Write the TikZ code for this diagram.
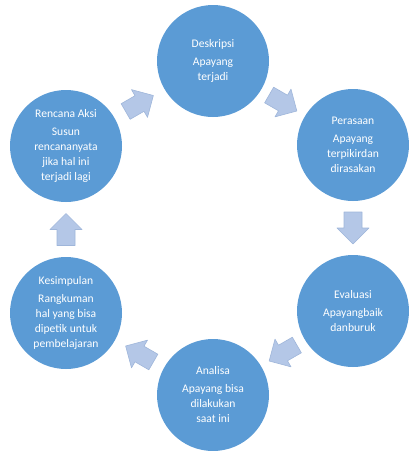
\documentclass[tikz,border=0pt]{standalone}
\usepackage{fontspec}
\setmainfont{Carlito}
\usetikzlibrary{calc}
\definecolor{circblue}{HTML}{5B9BD5}
\definecolor{arrfill}{HTML}{B4C7E7}
\definecolor{arredge}{HTML}{9FB6DA}
\begin{document}
\begin{tikzpicture}[x=1pt,y=-1pt,
  stage/.style={circle, fill=circblue, minimum size=112pt, inner sep=0pt, text=white, align=center, font=\fontsize{11.6}{15}\selectfont},
  barrow/.pic={\draw[arredge, fill=arrfill, line width=0.6pt, line join=round]
     (-16,-9) -- (0,-9) -- (0,-16) -- (16,0) -- (0,16) -- (0,9) -- (-16,9) -- cycle;}]
\useasboundingbox (0,0) rectangle (409,451);
\node[stage] (d) at (213,61) {Deskripsi\\[3pt]Apayang\\terjadi};
\node[stage] (p) at (353,145) {Perasaan\\[3pt]Apayang\\terpikirdan\\dirasakan};
\node[stage] (e) at (353,311) {Evaluasi\\[3pt]Apayangbaik\\danburuk};
\node[stage] (a) at (213,395) {Analisa\\[3pt]Apayang bisa\\dilakukan\\saat ini};
\node[stage] (k) at (66,313) {Kesimpulan\\[3pt]Rangkuman\\hal yang bisa\\dipetik untuk\\pembelajaran};
\node[stage] (r) at (66,146) {Rencana Aksi\\[3pt]Susun\\rencananyata\\jika hal ini\\terjadi lagi};
\path ($(d)!0.5!(p)$) pic[rotate=-30]{barrow};
\path ($(p)!0.5!(e)$) pic[rotate=-90]{barrow};
\path ($(e)!0.5!(a)$) pic[rotate=-150]{barrow};
\path ($(a)!0.5!(k)$) pic[rotate=150]{barrow};
\path ($(k)!0.5!(r)$) pic[rotate=90]{barrow};
\path ($(r)!0.5!(d)$) pic[rotate=30]{barrow};
\end{tikzpicture}
\end{document}
